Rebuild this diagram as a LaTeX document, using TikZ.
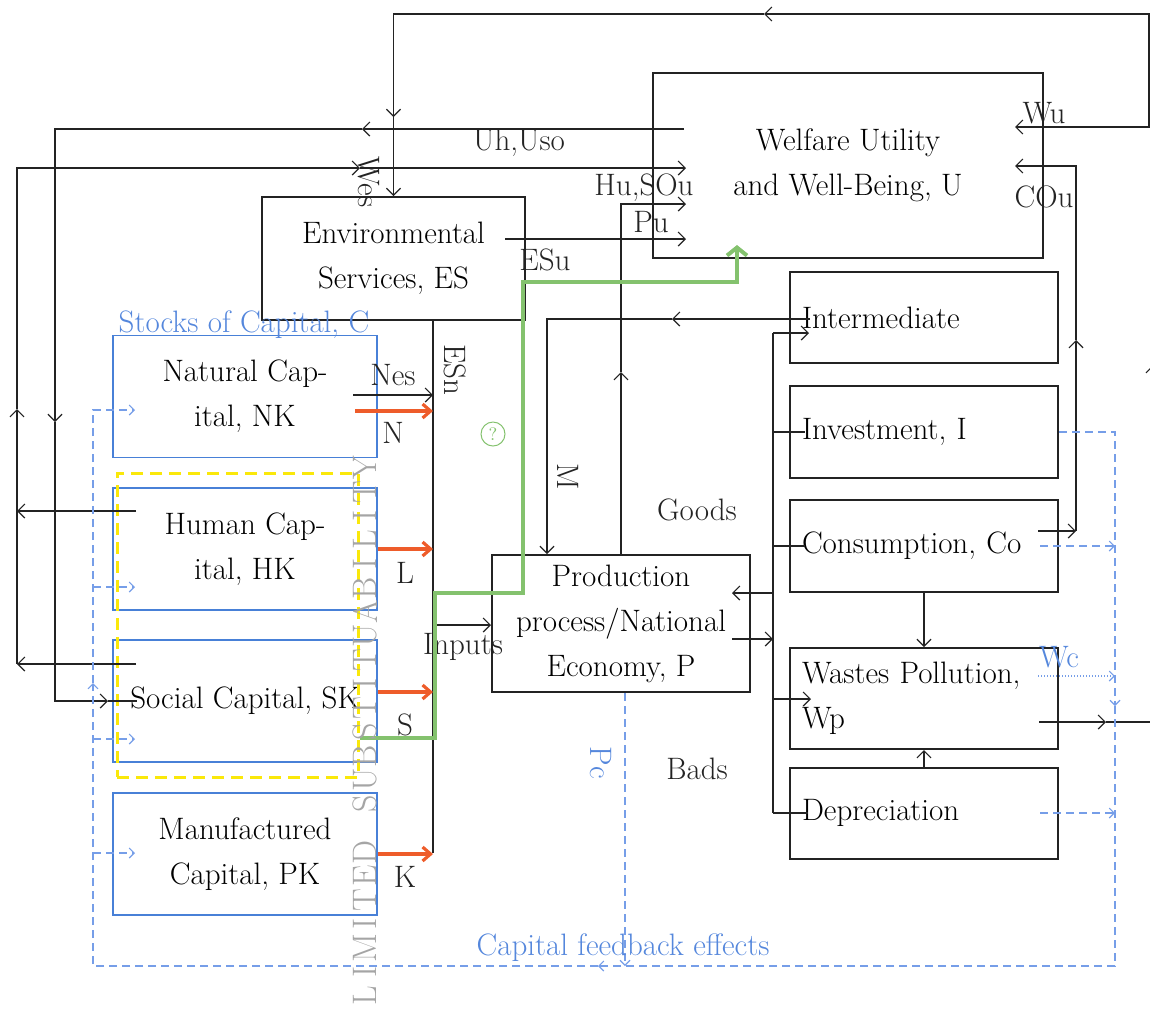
\documentclass[tikz,border=0pt]{standalone}
\usepackage{xcolor}
\usepackage{tikz}
\usetikzlibrary{shapes,arrows,positioning,calc,decorations.markings,arrows.meta}

\definecolor{ink}{RGB}{35,35,35}
\definecolor{capblue}{RGB}{72,128,215}
\definecolor{fbblue}{RGB}{118,158,232}
\definecolor{txtblue}{RGB}{85,135,220}
\definecolor{flowred}{RGB}{238,92,42}
\definecolor{pathgreen}{RGB}{132,194,110}
\definecolor{subyellow}{RGB}{250,232,10}
\definecolor{subgray}{RGB}{165,165,165}

\newcommand{\diagfont}{\fontsize{15.5}{22.5}\selectfont}

\tikzset{
  mainbox/.style={draw=ink, line width=1pt, inner sep=0pt, align=center, font=\diagfont},
  sectorbox/.style={draw=ink, line width=1pt, minimum width=134pt, text width=122pt,
    inner xsep=6pt, inner ysep=0pt, align=left, font=\diagfont},
  stockbox/.style={draw=capblue, line width=0.8pt, minimum width=132pt, minimum height=61pt,
    inner sep=0pt, align=center, font=\diagfont},
  lbl/.style={inner sep=0pt, font=\diagfont, text=ink},
  bluelbl/.style={lbl, text=txtblue},
  link/.style={draw=ink, line width=0.6pt},
  flow/.style={link, -{Straight Barb[length=3.5pt,width=7pt]}},
  supply/.style={draw=flowred, line width=1.6pt, -{Straight Barb[length=4pt,width=7pt]}},
  fb/.style={draw=fbblue, line width=0.55pt, dash pattern=on 4pt off 2.5pt},
  fbflow/.style={fb, -{Straight Barb[length=2.5pt,width=5pt]}},
  fbdot/.style={fbflow, dash pattern=on 0.6pt off 0.9pt},
  greenpath/.style={draw=pathgreen, line width=2pt, -{Straight Barb[length=4pt,width=10pt]}},
  subst/.style={inner sep=0pt, text=subgray, font=\fontsize{17}{17}\selectfont, rotate=90},
}

\begin{document}
\begin{tikzpicture}[x=0.5pt, y=-0.5pt]
    \useasboundingbox (0,0) rectangle (1150,1009);
    \clip (0,0) rectangle (1150,1009);

    % Main blocks
    \node[mainbox, minimum width=195pt, minimum height=92.5pt] (wel) at (848,165.5) {Welfare Utility\\and Well-Being, U};
    \node[mainbox, minimum width=131.5pt, minimum height=61.5pt] (es) at (393.5,258.5) {Environmental\\Services, ES};
    \node[mainbox, minimum width=129pt, minimum height=68.5pt] (prod) at (621,623.5) {Production\\process/National\\Economy, P};

    % Uses of output
    \node[sectorbox, minimum height=45.5pt] (inter) at (924,317.5) {Intermediate};
    \node[sectorbox, minimum height=46pt] (inv) at (924,432) {Investment, I};
    \node[sectorbox, minimum height=46pt] (cons) at (924,546) {Consumption, Co};
    \node[sectorbox, minimum height=50.5pt] (waste) at (924,698.5) {Wastes Pollution,\\Wp};
    \node[sectorbox, minimum height=45.5pt] (dep) at (924,813) {Depreciation};

    % Stocks of capital
    \node[stockbox] (nk) at (245,396.5) {Natural Cap-\\ital, NK};
    \node[stockbox] (hk) at (245,549) {Human Cap-\\ital, HK};
    \node[stockbox] (sk) at (245,701) {Social Capital, SK};
    \node[stockbox] (pk) at (245,854) {Manufactured\\Capital, PK};
    \node[bluelbl] (stocks) at (244,325) {Stocks of Capital, C};
    \node[draw=subyellow, line width=1.5pt, dash pattern=on 6pt off 3.5pt, inner sep=0pt,
      minimum width=120.5pt, minimum height=152pt] (subzone) at (237.5,625) {};

    % Outer loop back to ES
    \draw[flow] (1149,127) -- (1149,14) -- (764,14);
    \draw[flow] (764,14) -- (es.north |- 0,14) -- (es.north |- 0,117);
    \draw[flow] (es.north |- 0,117) -- (es.north);
    \node[lbl, rotate=-90] (wes) at (369,182) {Wes};

    % Uh,Uso
    \coordinate (uhout) at (684,129);
    \draw[flow] (uhout) -- (362,129);
    \draw[flow] (362,129) -- (55,129) -- (55,422);
    \draw[flow] (55,422) -- (55,701) -- (108,701);
    \draw[link] (108,701) -- (137,701);
    \node[lbl] (uh) at (519,143) {Uh,Uso};

    % Hu,SOu
    \coordinate (hkout) at (136,511);
    \coordinate (skout) at (136,664);
    \draw[flow] (hkout) -- (17,511);
    \draw[flow] (skout) -- (17,664);
    \draw[flow] (17,664) -- (17,409);
    \draw[flow] (17,409) -- (17,168) -- (360,168);
    \draw[flow] (360,168) -- (686,168);
    \node[lbl] (husou) at (644,188) {Hu,SOu};

    % ESu and Pu
    \coordinate (esout) at (505,239);
    \draw[flow] (esout) -- (686,239);
    \node[lbl] (esu) at (545,260) {ESu};
    \draw[flow] (prod.north) -- (prod.north |- 0,372);
    \draw[flow] (prod.north |- 0,372) -- (prod.north |- 0,204) -- (686,204);
    \node[lbl] (pu) at (651,222) {Pu};

    % COu
    \draw[flow] (1038,531) -- (1076,531);
    \draw[flow] (1076,531) -- (1076,340);
    \draw[flow] (1076,340) -- (1076,166) -- (1015,166);
    \node[lbl] (cou) at (1044,197) {COu};

    % Wastes out, Wu
    \draw[flow] (1039,722) -- (1106,722);
    \draw[flow] (1106,722) -- (1153,722) -- (1153,365);
    \draw[flow] (1153,365) -- (1153,127) -- (1015,127);
    \node[lbl] (wu) at (1044,113) {Wu};

    % Inputs
    \draw[link] (es.south -| 433,0) -- (433,853);
    \node[lbl, rotate=-90] (esn) at (455,370) {ESn};
    \draw[flow] (353,395) -- (433,395);
    \node[lbl] (nes) at (393,375) {Nes};
    \draw[supply] (355,411) -- (433,411);
    \node[lbl] (nlab) at (393,433) {N};
    \draw[supply] (hk.east) -- (hk.east -| 433,0);
    \node[lbl] (llab) at (405,573) {L};
    \draw[supply] (378,692) -- (433,692);
    \node[lbl] (slab) at (405,725) {S};
    \draw[supply] (pk.east) -- (pk.east -| 433,0);
    \node[lbl] (klab) at (405,877) {K};
    \draw[flow] (433,625) -- (prod.west |- 0,625);
    \node[lbl] (inputs) at (463,647) {Inputs};

    % M
    \draw[flow] (810,319) -- (672,319);
    \draw[flow] (672,319) -- (547,319) -- (prod.north -| 547,0);
    \node[lbl, rotate=-90] (mlab) at (568,477) {M};

    % Goods and bads
    \draw[link] (773,333) -- (773,813);
    \draw[flow] (773,333) -- (809,333);
    \draw[link] (773,432) -- (805,432);
    \draw[link] (773,546) -- (805,546);
    \draw[flow] (773,699) -- (811,699);
    \draw[link] (773,813) -- (808,813);
    \draw[flow] (732,639) -- (773,639);
    \draw[flow] (773,593) -- (732,593);
    \draw[flow] (cons.south) -- (waste.north);
    \draw[flow] (dep.north) -- (waste.south);
    \node[lbl] (goods) at (697,510) {Goods};
    \node[lbl] (bads) at (697,769) {Bads};

    % Capital feedback effects
    \draw[fbflow] (inv.east) -- (1115,432) -- (1115,706);
    \draw[fbflow] (1115,706) -- (1115,966) -- (598,966);
    \draw[fbflow] (598,966) -- (93,966) -- (93,683);
    \draw[fbflow] (93,683) -- (93,410) -- (135,410);
    \draw[fbflow] (93,587) -- (135,587);
    \draw[fbflow] (93,739) -- (135,739);
    \draw[fbflow] (93,853) -- (135,853);
    \draw[fbflow] (1040,546) -- (1115,546);
    \draw[fbdot] (1038,676) -- (1115,676);
    \draw[fbflow] (1040,813) -- (1115,813);
    \draw[fbflow] (prod.south -| 625,0) -- (625,966);
    \node[bluelbl, rotate=-90] (pc) at (601,763) {Pc};
    \node[bluelbl] (wc) at (1059,657) {Wc};
    \node[bluelbl] (fbtext) at (623,948) {Capital feedback effects};

    % Green route
    \draw[greenpath] (360,738) -- (435,738) -- (435,593) -- (523,593) -- (523,282) -- (737,282) -- (737,245);
    \node[circle, draw=pathgreen, line width=0.5pt, inner sep=0pt, minimum size=12pt,
      text=pathgreen, font=\fontsize{9}{9}\selectfont] (qm) at (493,434) {?};

    % Limited substituability
    \foreach \ch [count=\i from 0] in {L,I,M,I,T,E,D,{},S,U,B,S,T,I,T,U,A,B,I,L,I,T,Y}
        \node[subst] (sub\i) at (365,996-24*\i) {\ch};
\end{tikzpicture}
\end{document}
